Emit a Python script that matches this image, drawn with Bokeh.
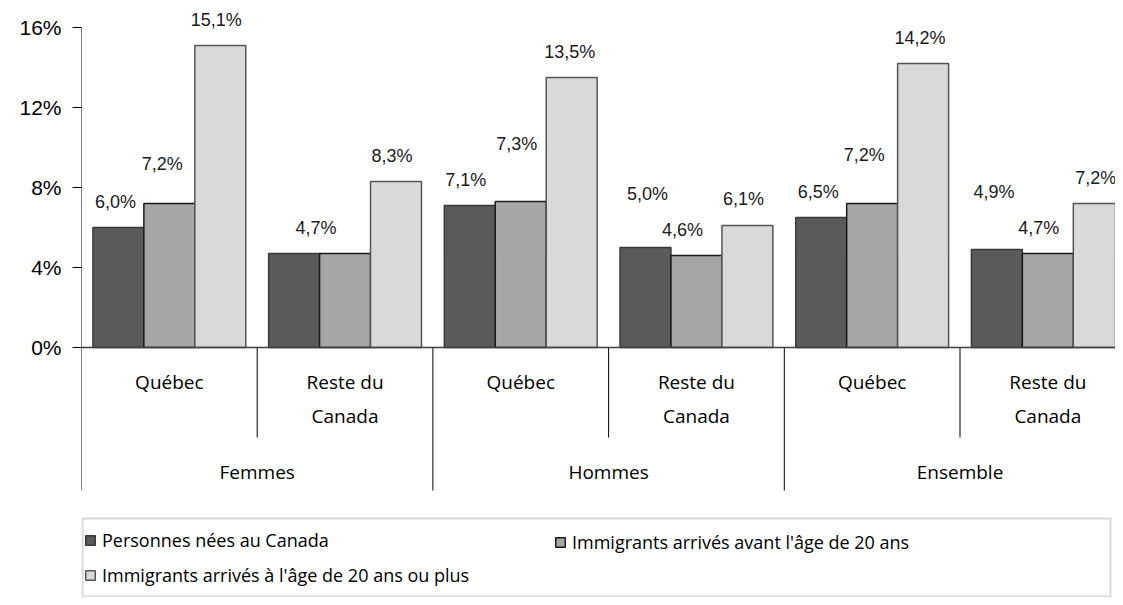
from bokeh.plotting import figure
from bokeh.models import (Range1d, FixedTicker, Span, Legend, LegendItem,
                          BoxAnnotation, ColumnDataSource)
from bokeh.core.properties import value
from bokeh.embed import file_html
from bokeh.resources import INLINE

# ---------------- data ----------------
groups = ["Femmes", "Hommes", "Ensemble"]
regions = ["Québec", "Reste du\nCanada"]
series = ["Personnes nées au Canada",
          "Immigrants arrivés avant l'âge de 20 ans",
          "Immigrants arrivés à l'âge de 20 ans ou plus"]
nes_au_canada = [6.0, 4.7, 7.1, 5.0, 6.5, 4.9]
avant_20_ans = [7.2, 4.7, 7.3, 4.6, 7.2, 4.7]
apres_20_ans = [15.1, 8.3, 13.5, 6.1, 14.2, 7.2]
y_ticks = [0, 4, 8, 12, 16]

# ---------------- layout / style ----------------
W, H = 1115, 597
AXIS_W = 81
CAT_PX = 175.7
PX_PER_UNIT = 20.0
ZERO_Y = 347.0
BAR_W = 0.29
colors = ["#5a5a5a", "#a6a6a6", "#d9d9d9"]
outlines = ["#3a3a3a", "#1a1a1a", "#555555"]
# label placement (pixels): extra lift above the default and horizontal nudge
label_lift = [[0, 14, 0], [0, None, 0], [0, 32, 0], [28, 0, 1], [0, 23, 0], [32, 0, 0]]
label_dx = [[-3, -7, -4], [22, 0, -4], [-4, -4, -2], [2, -14, -4], [-3, -8, -3], [-3, -9, -3]]
LABEL_GAP = 26
SUB_SEP_BOTTOM = -(437 - ZERO_Y) / PX_PER_UNIT
GROUP_SEP_BOTTOM = -(490 - ZERO_Y) / PX_PER_UNIT
REGION_LABEL_Y = -(368 - ZERO_Y) / PX_PER_UNIT
GROUP_LABEL_Y = -(471 - ZERO_Y) / PX_PER_UNIT

CAT_FONT = value("Open Sans")
NUM_FONT = value("Liberation Sans")

p = figure(width=W, height=H, output_backend="svg", toolbar_location=None,
           x_range=Range1d(0, (W - AXIS_W) / CAT_PX),
           y_range=Range1d(-(H - ZERO_Y) / PX_PER_UNIT, ZERO_Y / PX_PER_UNIT),
           x_axis_location=None, min_border_left=AXIS_W, min_border_right=0,
           min_border_top=0, min_border_bottom=0)
p.outline_line_color = None
p.xgrid.visible = False
p.ygrid.visible = False
p.background_fill_color = "white"
p.border_fill_color = "white"

ax = p.yaxis[0]
ax.ticker = FixedTicker(ticks=y_ticks)
ax.major_label_overrides = {t: f"{t}%" for t in y_ticks}
ax.axis_line_color = None
ax.major_tick_in = 0
ax.major_tick_out = 9
ax.major_tick_line_color = "black"
ax.minor_tick_line_color = None
ax.major_label_standoff = 11
ax.major_label_text_font = "Liberation Sans"
ax.major_label_text_font_size = "21px"
ax.major_label_text_color = "black"

ncat = len(nes_au_canada)
renderers = []
all_vals = [nes_au_canada, avant_20_ans, apres_20_ans]
for k, vals in enumerate(all_vals):
    xs = [i + 0.5 + (k - 1) * BAR_W for i in range(ncat)]
    r = p.vbar(x=xs, top=vals, width=BAR_W, fill_color=colors[k],
               line_color=outlines[k], line_width=1.5)
    renderers.append(r)

# baseline
p.add_layout(Span(location=0, dimension="width", line_color="#404040", line_width=1.5))

# axis line + separators
p.segment(x0=[0], y0=[y_ticks[-1]], x1=[0], y1=[GROUP_SEP_BOTTOM], line_color="black", line_width=1)
sub_x = [2 * g + 1 for g in range(len(groups))]
p.segment(x0=sub_x, y0=[0] * len(sub_x), x1=sub_x, y1=[SUB_SEP_BOTTOM] * len(sub_x),
          line_color="black", line_width=1)
grp_x = [2 * g for g in range(1, len(groups) + 1)]
p.segment(x0=grp_x, y0=[0] * len(grp_x), x1=grp_x, y1=[GROUP_SEP_BOTTOM] * len(grp_x),
          line_color="black", line_width=1)

# data labels
lx, ly, lt, ldx, ldy = [], [], [], [], []
for k, vals in enumerate(all_vals):
    for i, v in enumerate(vals):
        lift = label_lift[i][k]
        if lift is None:
            continue
        lx.append(i + 0.5 + (k - 1) * BAR_W)
        ly.append(v)
        lt.append(f"{v:.1f}".replace(".", ",") + "%")
        ldx.append(label_dx[i][k])
        ldy.append(-(LABEL_GAP + lift))
src = ColumnDataSource(dict(x=lx, y=ly, text=lt, dx=ldx, dy=ldy))
p.text(x="x", y="y", text="text", x_offset="dx", y_offset="dy", source=src,
       text_font=NUM_FONT, text_font_size="18px", text_color="#1a1a1a",
       text_align="center", text_baseline="middle")

# category labels
p.text(x=[i + 0.5 for i in range(ncat)], y=[REGION_LABEL_Y] * ncat,
       text=[regions[i % 2] for i in range(ncat)],
       text_font=CAT_FONT, text_font_size="19px", text_color="black",
       text_align="center", text_baseline="top", text_line_height=1.32)
p.text(x=[2 * g + 1 for g in range(len(groups))], y=[GROUP_LABEL_Y] * len(groups),
       text=groups, text_font=CAT_FONT, text_font_size="19px", text_color="black",
       text_align="center", text_baseline="middle")

# legend
box = BoxAnnotation(left=82, right=1110, top=518, bottom=596,
                    left_units="canvas", right_units="canvas",
                    top_units="canvas", bottom_units="canvas",
                    fill_color=None, fill_alpha=0, line_color="#808080", line_width=2)
p.add_layout(box)

def make_legend(items, loc):
    lg = Legend(items=items, location=loc, orientation="vertical")
    lg.glyph_width = 12
    lg.glyph_height = 12
    lg.label_standoff = 6
    lg.spacing = 11
    lg.padding = 0
    lg.margin = 0
    lg.label_height = 22
    lg.border_line_color = None
    lg.background_fill_alpha = 0
    lg.label_text_font = "Open Sans"
    lg.label_text_font_size = "18px"
    lg.label_text_color = "black"
    return lg

leg1 = make_legend([LegendItem(label=series[0], renderers=[renderers[0]]),
                    LegendItem(label=series[2], renderers=[renderers[2]])], (3, 10))
leg2 = make_legend([LegendItem(label=series[1], renderers=[renderers[1]])], (473, 43))
p.add_layout(leg1)
p.add_layout(leg2)

open("out.html", "w").write(file_html(p, INLINE))
